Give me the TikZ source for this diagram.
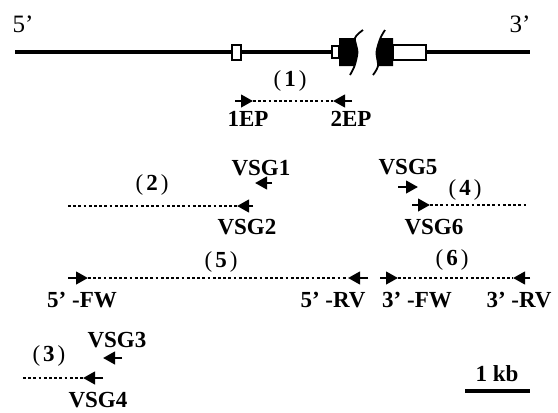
\documentclass[tikz,border=0pt]{standalone}
\usepackage{fontspec}
\setmainfont{Liberation Serif}
\usetikzlibrary{arrows.meta}

\begin{document}
\begin{tikzpicture}[x=1pt,y=-1pt,
  lbl/.style={font=\fontsize{23}{26}\selectfont\bfseries, inner sep=0pt},
  num/.style={font=\fontsize{23}{26}\selectfont, inner sep=0pt},
  strand/.style={font=\fontsize{25}{28}\selectfont, inner sep=0pt},
  primer/.style={line width=2.6pt, -{Triangle[length=12pt,width=12.5pt]}},
  amplicon/.style={line width=2.8pt, dash pattern=on 2.8pt off 2.4pt},
  chrom/.style={line width=3.2pt},
  exon/.style={draw, line width=2.2pt, fill=white},
  brk/.style={line width=1.8pt}]
\useasboundingbox (0,0) rectangle (558,413);

% ---- gene locus ----
\node[strand] (five) at (23,24) {5’};
\node[strand] (three) at (520,24) {3’};
\coordinate (L) at (15,52);
\coordinate (R) at (530,52);
\coordinate (gapL) at (346,52);
\coordinate (gapR) at (386,52);
\draw[chrom] (L) -- (gapL);
\draw[chrom] (gapR) -- (R);

\draw[exon] (232,45) rectangle (241,60);
\draw[exon] (332,46) rectangle (339,58);
\fill (339,38) -- plot[smooth] coordinates {(355,38) (357.5,52) (354.5,66)} -- (339,66) -- cycle;
\draw[brk] plot[smooth] coordinates {(363,30) (355,38) (357.5,52) (354.5,66) (350,75)};
\fill (393,38) -- plot[smooth] coordinates {(380.5,38) (376.5,52) (378,66)} -- (393,66) -- cycle;
\draw[brk] plot[smooth] coordinates {(385,30) (380.5,38) (376.5,52) (378,66) (373,75)};
\draw[exon] (393,45) rectangle (426,60);

% ---- product (1) ----
\node[num] (n1) at (290,81) {(\kern3pt\textbf{1}\kern3pt)};
\coordinate (ep1t) at (235,101);
\coordinate (ep1h) at (253,101);
\coordinate (ep2t) at (352,101);
\coordinate (ep2h) at (333,101);
\draw[primer] (ep1t) -- (ep1h);
\draw[amplicon] (ep1h) -- (ep2h);
\draw[primer] (ep2t) -- (ep2h);
\node[lbl] (ep1) at (248,119) {1EP};
\node[lbl] (ep2) at (351,119) {2EP};

% ---- product (2) ----
\node[lbl] (vsg1) at (261,168) {VSG1};
\coordinate (v1t) at (272,183);
\coordinate (v1h) at (255,183);
\draw[primer] (v1t) -- (v1h);
\node[num] (n2) at (152,185) {(\kern3pt\textbf{2}\kern3pt)};
\coordinate (a2) at (68,206);
\coordinate (v2h) at (237,206);
\coordinate (v2t) at (253,206);
\draw[amplicon] (a2) -- (v2h);
\draw[primer] (v2t) -- (v2h);
\node[lbl] (vsg2) at (247,227) {VSG2};

% ---- product (4) ----
\node[lbl] (vsg5) at (408,167) {VSG5};
\coordinate (v5t) at (398,187);
\coordinate (v5h) at (418,187);
\draw[primer] (v5t) -- (v5h);
\node[num] (n4) at (465,190) {(\kern3pt\textbf{4}\kern3pt)};
\coordinate (v6t) at (412,205);
\coordinate (v6h) at (430,205);
\coordinate (a4) at (527,205);
\draw[primer] (v6t) -- (v6h);
\draw[amplicon] (v6h) -- (a4);
\node[lbl] (vsg6) at (434,227) {VSG6};

% ---- products (5) and (6) ----
\node[num] (n5) at (221,262) {(\kern3pt\textbf{5}\kern3pt)};
\node[num] (n6) at (452,260) {(\kern3pt\textbf{6}\kern3pt)};
\coordinate (f5t) at (68,278);
\coordinate (f5h) at (88,278);
\coordinate (r5h) at (348,278);
\coordinate (r5t) at (368,278);
\draw[primer] (f5t) -- (f5h);
\draw[amplicon] (f5h) -- (r5h);
\draw[primer] (r5t) -- (r5h);
\coordinate (f3t) at (380,278);
\coordinate (f3h) at (398,278);
\coordinate (r3h) at (513,278);
\coordinate (r3t) at (530,278);
\draw[primer] (f3t) -- (f3h);
\draw[amplicon] (f3h) -- (r3h);
\draw[primer] (r3t) -- (r3h);
\node[lbl] (fw5) at (82,300) {5’ -FW};
\node[lbl] (rv5) at (333,300) {5’ -RV};
\node[lbl] (fw3) at (417,300) {3’ -FW};
\node[lbl] (rv3) at (519,300) {3’ -RV};

% ---- product (3) ----
\node[lbl] (vsg3) at (117,340) {VSG3};
\coordinate (v3t) at (122,358);
\coordinate (v3h) at (103,358);
\draw[primer] (v3t) -- (v3h);
\node[num] (n3) at (49,356) {(\kern3pt\textbf{3}\kern3pt)};
\coordinate (a3) at (23,378);
\coordinate (v4h) at (83,378);
\coordinate (v4t) at (103,378);
\draw[amplicon] (a3) -- (v4h);
\draw[primer] (v4t) -- (v4h);
\node[lbl] (vsg4) at (98,400) {VSG4};

% ---- scale bar ----
\node[lbl] (kb) at (497,374) {1 kb};
\coordinate (sbL) at (465,391);
\coordinate (sbR) at (530,391);
\draw[line width=4.2pt] (sbL) -- (sbR);
\end{tikzpicture}
\end{document}
